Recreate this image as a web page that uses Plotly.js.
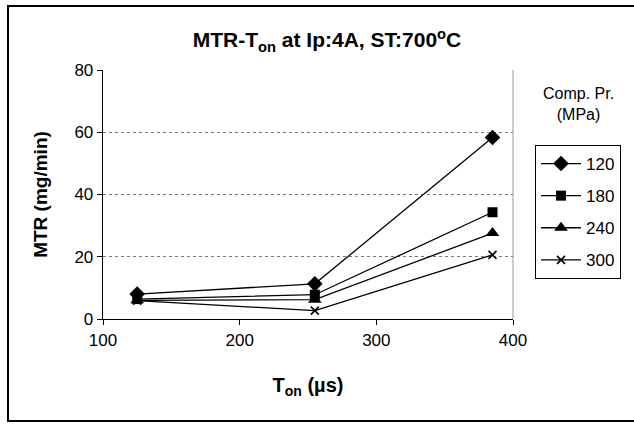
<!DOCTYPE html>
<html>
<head>
<meta charset="utf-8">
<script src="https://cdn.plot.ly/plotly-3.0.1.min.js"></script>
<style>html,body{margin:0;padding:0;background:#fff;}#chart{width:634px;height:425px;}</style>
</head>
<body>
<div id="chart"></div>
<script>
const tOn = [125, 255, 385];
const pressures = ["120", "180", "240", "300"];
const mtr120 = [8.0, 11.3, 58.3];
const mtr180 = [6.4, 7.8, 34.3];
const mtr240 = [6.0, 6.2, 27.6];
const mtr300 = [5.9, 2.7, 20.6];
const symbols = ["diamond", "square", "triangle-up", "x-thin-open"];
const sizes = [12, 10, 12, 8];
const seriesVals = [mtr120, mtr180, mtr240, mtr300];

const traces = seriesVals.map((v, i) => ({
  x: tOn, y: v, name: pressures[i], type: "scatter", mode: "lines+markers",
  legendgroup: "g" + i,
  line: {color: "#000", width: 1.3},
  marker: {symbol: symbols[i], size: sizes[i], color: "#000", line: {color: "#000", width: i === 3 ? 1.6 : 0}}
}));

const W = 410, H = 249;
const px = v => (v - 103) / W;
const py = v => (319 - v) / H;

const layout = {
  width: 634, height: 425,
  margin: {l: 103, r: 121, t: 70, b: 106},
  paper_bgcolor: "#fff", plot_bgcolor: "#fff",
  font: {family: "Liberation Sans, Arial, sans-serif", color: "#000", size: 17},
  title: {text: "<b>MTR-T<sub>on</sub> at Ip:4A, ST:700<sup>o</sup>C</b>", font: {size: 21},
          x: px(327), xref: "paper", xanchor: "center", y: 1 - 40/425, yanchor: "middle"},
  xaxis: {range: [100, 400], dtick: 100, tick0: 100, showgrid: false, zeroline: false,
          showline: true, linecolor: "#000", linewidth: 1.3, ticks: "outside", ticklen: 5, tickcolor: "#000",
          tickfont: {size: 17},
          title: {text: "<b>T<sub>on</sub> (µs)</b>", font: {size: 20}, standoff: 29}},
  yaxis: {range: [0, 80], dtick: 20, showgrid: true, gridcolor: "#777", griddash: "dot", gridwidth: 1,
          zeroline: false, showline: true, linecolor: "#000", linewidth: 1.3, ticks: "outside", ticklen: 5,
          tickcolor: "#000", tickfont: {size: 17},
          title: {text: "<b>MTR (mg/min)</b>", font: {size: 19}, standoff: 21}},
  showlegend: true,
  legend: {x: px(535), y: py(145), xanchor: "left", yanchor: "top", bordercolor: "#000", borderwidth: 1,
           bgcolor: "#fff", font: {size: 17}, traceorder: "grouped", tracegroupgap: 7, itemwidth: 40},
  annotations: [{text: "Comp. Pr.<br>(MPa)", xref: "paper", yref: "paper", x: px(578), y: py(104),
                 xanchor: "center", yanchor: "middle", showarrow: false, font: {size: 16}}],
  shapes: [
    {type: "line", xref: "paper", yref: "paper", x0: 1, x1: 1, y0: 0, y1: 1, line: {color: "#999", width: 1}},
    {type: "rect", xref: "paper", yref: "paper", x0: px(8), x1: px(640), y0: py(421), y1: py(6),
     line: {color: "#000", width: 2}, layer: "below"}
  ]
};

Plotly.newPlot("chart", traces, layout, {displayModeBar: false, staticPlot: true});
</script>
</body>
</html>
